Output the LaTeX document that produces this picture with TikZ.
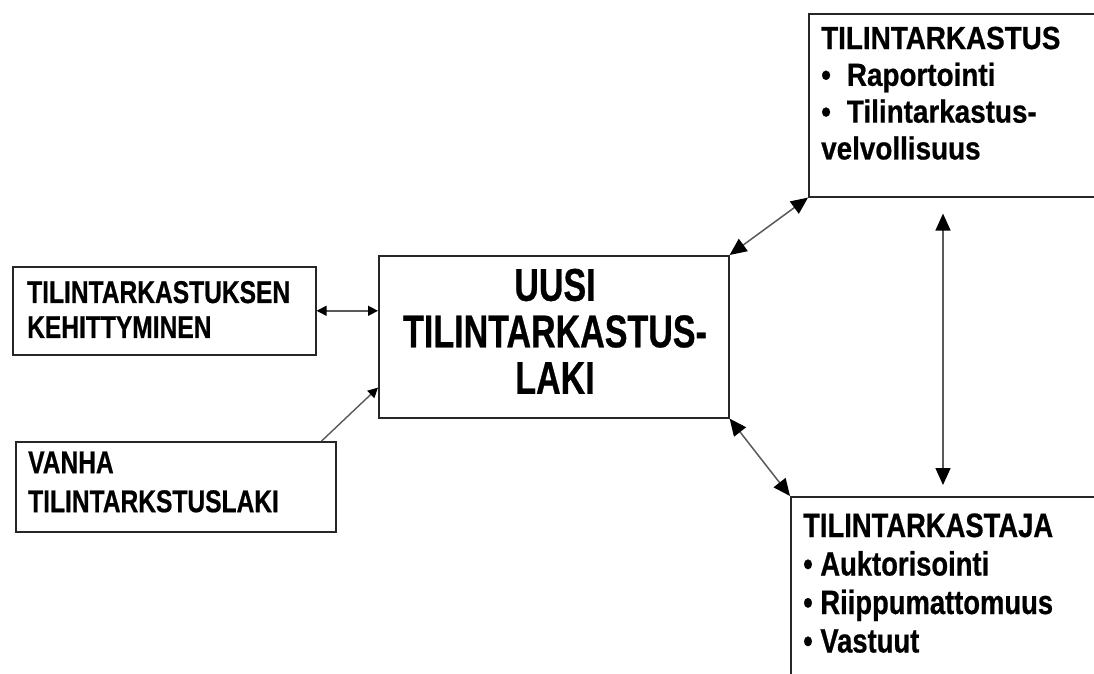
\documentclass[tikz,border=0pt]{standalone}
\usepackage{fontspec}
\setmainfont{Liberation Sans}
\newfontfamily\fcenter{Liberation Sans}[FakeStretch=0.74,FakeBold=0.6]
\newfontfamily\fleft{Liberation Sans}[FakeStretch=0.78,FakeBold=0.6]
\newfontfamily\ftr{Liberation Sans}[FakeStretch=0.87,FakeBold=0.6]
\newfontfamily\fbr{Liberation Sans}[FakeStretch=0.81,FakeBold=0.6]
\usetikzlibrary{arrows.meta,calc}
\begin{document}
\begin{tikzpicture}[x=1pt,y=-1pt,
  box/.style={draw=black!85, line width=1.6pt, anchor=north west, inner sep=0pt},
  txt/.style={anchor=north west, inner sep=0pt, align=left},
  bigarrow/.style={{Triangle[length=17pt,width=15pt,color=black]}-{Triangle[length=17pt,width=15pt,color=black]}, draw=black!65, line width=1.5pt},
  smallboth/.style={{Triangle[length=10pt,width=10pt,color=black]}-{Triangle[length=10pt,width=10pt,color=black]}, draw=black!65, line width=1.4pt},
  smallend/.style={-{Triangle[length=10pt,width=10pt,color=black]}, draw=black!65, line width=1.4pt}
]
\clip (0,0) rectangle (1094,674);
\fill[white] (0,0) rectangle (1094,674);

% boxes
\node[box, minimum width=350pt, minimum height=162pt] (c) at (378,255) {};
\node[box, minimum width=303pt, minimum height=88pt] (lt) at (12,266) {};
\node[box, minimum width=320pt, minimum height=90pt] (lb) at (15,441) {};
\node[box, minimum width=310pt, minimum height=183pt] (tr) at (808,13) {};
\node[box, minimum width=320pt, minimum height=210pt] (br) at (790,496) {};

% texts
\node[anchor=north, align=center, inner sep=0pt, font=\fcenter\bfseries\fontsize{46}{46.5}\selectfont]
  (ct) at (555,268.5) {UUSI\\TILINTARKASTUS-\\LAKI};
\node[txt, font=\fleft\bfseries\fontsize{31.5}{35}\selectfont]
  (ltt) at (27,280.8) {TILINTARKASTUKSEN\\KEHITTYMINEN};
\node[txt, font=\fleft\bfseries\fontsize{31.5}{39}\selectfont]
  (lbt) at (28,451.3) {VANHA\\TILINTARKSTUSLAKI};
\node[txt, font=\ftr\bfseries\fontsize{32}{36.8}\selectfont]
  (trt) at (821,26.5) {TILINTARKASTUS\\•\enspace Raportointi\\•\enspace Tilintarkastus-\\velvollisuus};
\node[txt, font=\fbr\bfseries\fontsize{33.8}{38.5}\selectfont]
  (brt) at (803,513.2) {TILINTARKASTAJA\\• Auktorisointi\\• Riippumattomuus\\• Vastuut};

% connectors
\draw[bigarrow] (c.north east) -- (tr.south west);
\draw[bigarrow] (c.south east) -- (br.north west);
\draw[bigarrow] ([xshift=135pt,yshift=-16pt]tr.south west) -- ([xshift=153pt,yshift=11pt]br.north west);
\draw[smallboth] (lt.east) -- (lt.east -| c.west);
\coordinate (lbs) at ($(lb.north east)+(-15,0)$);
\coordinate (ce) at ($(c.south west)+(0,-31)$);
\draw[smallend] (lbs) -- (ce);
\end{tikzpicture}
\end{document}
